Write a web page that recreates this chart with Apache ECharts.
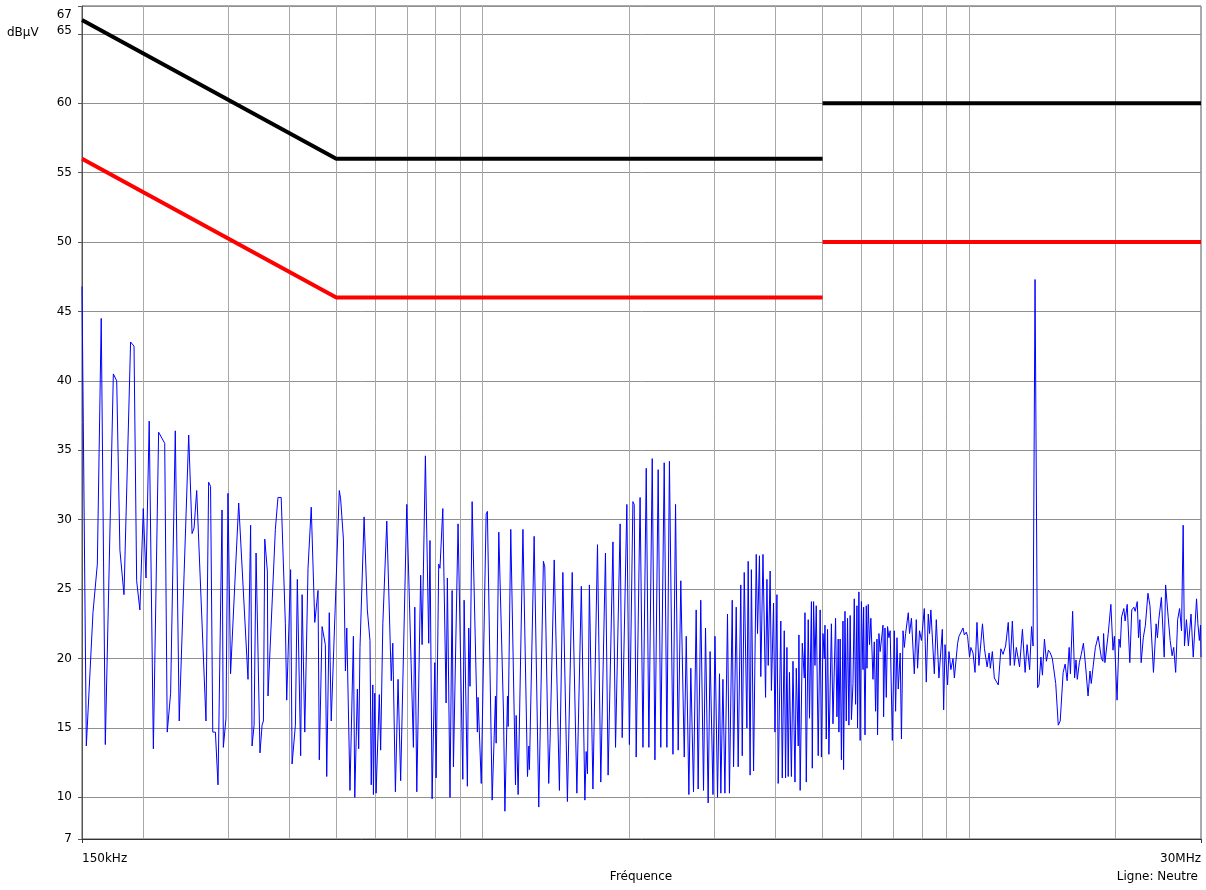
<!DOCTYPE html>
<html>
<head>
<meta charset="utf-8">
<script src="https://cdn.jsdelivr.net/npm/echarts@6/dist/echarts.min.js"></script>
<style>
  html, body { margin: 0; padding: 0; background: #ffffff; }
  #chart { width: 1206px; height: 890px; }
</style>
</head>
<body>
<div id="chart"></div>
<script>
// Conducted emission sweep, neutral line (frequency in MHz, level in dBµV)
const sweepMHz = [
  0.1500, 0.1531, 0.1580, 0.1613, 0.1643, 0.1675, 0.1740, 0.1768, 0.1795, 0.1830,
  0.1888, 0.1919, 0.1943, 0.1973, 0.2005, 0.2031, 0.2062, 0.2103, 0.2156, 0.2219,
  0.2246, 0.2282, 0.2333, 0.2377, 0.2486, 0.2526, 0.2550, 0.2582, 0.2698, 0.2732,
  0.2757, 0.2786, 0.2821, 0.2856, 0.2911, 0.2929, 0.2966, 0.2994, 0.3031, 0.3092,
  0.3150, 0.3292, 0.3333, 0.3356, 0.3388, 0.3420, 0.3484, 0.3519, 0.3541, 0.3564,
  0.3608, 0.3619, 0.3747, 0.3794, 0.3852, 0.3929, 0.3954, 0.4028, 0.4056, 0.4120,
  0.4158, 0.4224, 0.4253, 0.4307, 0.4374, 0.4441, 0.4516, 0.4586, 0.4614, 0.4675,
  0.4748, 0.4779, 0.4837, 0.4882, 0.5072, 0.5104, 0.5172, 0.5221, 0.5255, 0.5335,
  0.5422, 0.5458, 0.5525, 0.5560, 0.5594, 0.5704, 0.5792, 0.5865, 0.5900, 0.5944,
  0.5961, 0.6000, 0.6037, 0.6130, 0.6169, 0.6233, 0.6351, 0.6487, 0.6534, 0.6615,
  0.6699, 0.6782, 0.6981, 0.7024, 0.7204, 0.7252, 0.7320, 0.7456, 0.7507, 0.7625,
  0.7746, 0.7792, 0.7871, 0.7972, 0.8021, 0.8121, 0.8170, 0.8280, 0.8410, 0.8461,
  0.8567, 0.8653, 0.8707, 0.8900, 0.9103, 0.9159, 0.9302, 0.9362, 0.9418, 0.9513,
  0.9753, 0.9784, 0.9933, 1.0165, 1.0226, 1.0460, 1.0624, 1.0659, 1.0793, 1.1038,
  1.1110, 1.1246, 1.1283, 1.1423, 1.1681, 1.1719, 1.1828, 1.2100, 1.2364, 1.2443,
  1.2478, 1.2760, 1.3042, 1.3332, 1.3420, 1.3671, 1.3754, 1.4032, 1.4382, 1.4618,
  1.4937, 1.5280, 1.5375, 1.5621, 1.5955, 1.6225, 1.6324, 1.6424, 1.6576, 1.6855,
  1.7223, 1.7494, 1.7886, 1.8112, 1.8531, 1.8760, 1.9172, 1.9360, 1.9792, 2.0032,
  2.0367, 2.0493, 2.0686, 2.1071, 2.1360, 2.1695, 2.1967, 2.2320, 2.2606, 2.2956,
  2.3242, 2.3622, 2.3922, 2.4212, 2.4621, 2.4925, 2.5239, 2.5553, 2.5974, 2.6219,
  2.6548, 2.6793, 2.7137, 2.7482, 2.7739, 2.8084, 2.8455, 2.8724, 2.9086, 2.9355,
  2.9758, 3.0040, 3.0407, 3.0689, 3.0885, 3.1193, 3.1488, 3.1874, 3.2169, 3.2600,
  3.2802, 3.3219, 3.3529, 3.3946, 3.4180, 3.4505, 3.4942, 3.5154, 3.5479, 3.5691,
  3.6062, 3.6521, 3.6743, 3.7084, 3.7320, 3.7704, 3.8170, 3.8418, 3.8651, 3.9008,
  3.9241, 3.9644, 3.9904, 4.0279, 4.0523, 4.1027, 4.1310, 4.1702, 4.1959, 4.2231,
  4.2487, 4.2743, 4.3136, 4.3463, 4.3874, 4.4143, 4.4555, 4.4698, 4.4966, 4.5420,
  4.5851, 4.6001, 4.6283, 4.6714, 4.6996, 4.7428, 4.7620, 4.7915, 4.8230, 4.8525,
  4.8977, 4.9430, 4.9725, 5.0095, 5.0404, 5.0569, 5.0879, 5.1188, 5.1518, 5.2137,
  5.2523, 5.3172, 5.3517, 5.3842, 5.4015, 5.4339, 5.4664, 5.5071, 5.5230, 5.5593,
  5.5933, 5.6273, 5.6636, 5.6976, 5.7316, 5.7740, 5.8097, 5.8454, 5.8833, 5.9000,
  5.9380, 5.9737, 6.0094, 6.0549, 6.0724, 6.1122, 6.1497, 6.1696, 6.2070, 6.2444,
  6.2842, 6.3479, 6.3871, 6.4263, 6.4681, 6.4864, 6.5282, 6.5674, 6.6559, 6.6751,
  6.7189, 6.7600, 6.8012, 6.8450, 6.8861, 6.9560, 7.0221, 7.0652, 7.1111, 7.1542,
  7.2203, 7.2635, 7.3181, 7.3633, 7.4085, 7.5019, 7.5471, 7.6164, 7.7196, 7.7923,
  7.8397, 7.9123, 7.9850, 8.0942, 8.1703, 8.2465, 8.2962, 8.3491, 8.4869, 8.5667,
  8.6743, 8.8150, 8.8697, 8.9278, 9.0371, 9.0953, 9.1791, 9.2735, 9.3308, 9.4759,
  9.5369, 9.6247, 9.7230, 9.7831, 9.8751, 9.9352, 10.027, 10.091, 10.194, 10.290,
  10.387, 10.483, 10.660, 10.761, 10.827, 10.898, 10.999, 11.065, 11.170, 11.276,
  11.382, 11.488, 11.631, 11.749, 11.894, 12.044, 12.155, 12.280, 12.397, 12.513,
  12.706, 12.880, 13.045, 13.167, 13.327, 13.449, 13.545, 13.673, 13.840, 13.929,
  14.058, 14.160, 14.295, 14.429, 14.564, 14.698, 14.840, 15.080, 15.263, 15.404,
  15.619, 15.767, 15.915, 16.070, 16.167, 16.336, 16.491, 16.599, 16.700, 16.863,
  17.018, 17.191, 17.355, 17.459, 17.574, 17.736, 17.842, 18.025, 18.196, 18.435,
  18.606, 18.724, 18.855, 18.917, 19.034, 19.337, 19.579, 19.777, 19.907, 20.160,
  20.347, 20.469, 20.601, 20.818, 20.945, 21.152, 21.416, 21.613, 21.834, 21.968,
  22.185, 22.320, 22.463, 22.597, 22.828, 23.055, 23.335, 23.562, 23.953, 24.259,
  24.407, 24.565, 24.870, 25.205, 25.370, 25.680, 25.927, 26.165, 26.362, 26.611,
  26.860, 27.109, 27.358, 27.571, 27.741, 28.002, 28.263, 28.615, 28.919, 29.372,
  29.562, 29.769, 29.940, 30.000
];
const sweepDbuV = [
  46.8, 13.7, 23.3, 26.8, 44.5, 13.8, 40.5, 40.0, 27.8, 24.6,
  42.8, 42.5, 25.6, 23.5, 30.8, 25.8, 37.1, 13.5, 36.3, 35.5,
  14.7, 17.5, 36.4, 15.5, 36.1, 29.0, 29.4, 32.1, 15.5, 32.7,
  32.4, 14.7, 14.7, 10.9, 30.7, 13.6, 15.7, 31.9, 18.9, 25.3,
  31.2, 18.5, 29.6, 13.7, 15.2, 27.6, 13.2, 15.2, 15.5, 28.6,
  26.3, 17.3, 29.3, 31.6, 31.6, 22.5, 17.0, 26.4, 12.4, 15.2,
  25.7, 13.0, 24.6, 14.7, 26.5, 30.9, 22.6, 24.9, 12.7, 22.3,
  21.0, 11.5, 23.3, 15.5, 32.1, 31.5, 28.6, 19.1, 22.2, 10.5,
  21.6, 10.0, 17.8, 13.5, 20.8, 30.2, 23.5, 21.3, 10.9, 18.1,
  10.2, 17.5, 10.3, 17.4, 13.4, 22.5, 29.9, 18.4, 21.1, 10.4,
  18.5, 11.2, 31.1, 31.2, 13.6, 23.7, 10.4, 26.0, 21.0, 34.6,
  21.1, 28.5, 9.9, 19.7, 11.4, 26.8, 26.5, 30.8, 16.8, 25.8,
  10.0, 24.9, 12.2, 29.7, 11.3, 24.2, 10.8, 22.2, 18.0, 31.3,
  14.7, 17.2, 11.0, 30.4, 30.6, 9.8, 17.3, 13.9, 29.1, 16.0,
  9.0, 17.3, 15.1, 29.3, 10.9, 15.9, 10.2, 29.3, 11.5, 13.7,
  12.0, 28.8, 9.3, 27.0, 26.6, 11.0, 13.9, 27.1, 10.5, 26.2,
  9.7, 26.2, 26.2, 10.3, 25.2, 9.8, 13.3, 11.7, 25.3, 10.6,
  28.2, 11.1, 27.6, 11.6, 28.4, 13.6, 29.7, 14.3, 31.1, 13.8,
  31.3, 31.1, 12.9, 31.6, 13.6, 33.7, 13.6, 34.4, 12.7, 33.6,
  13.6, 34.1, 13.6, 34.2, 13.1, 31.1, 13.4, 25.6, 12.9, 21.6,
  10.2, 19.3, 10.4, 23.5, 10.6, 24.2, 10.5, 22.2, 9.6, 20.5,
  10.2, 21.6, 10.0, 18.9, 10.3, 18.5, 10.3, 23.2, 10.3, 24.2,
  12.2, 23.7, 12.2, 25.3, 13.0, 26.2, 15.0, 27.0, 11.6, 26.4,
  11.9, 27.5, 21.8, 27.4, 18.7, 27.5, 17.2, 25.7, 19.5, 26.3,
  17.7, 24.0, 14.7, 24.6, 11.0, 22.7, 11.4, 22.0, 11.4, 20.8,
  11.5, 19.0, 11.5, 19.8, 11.1, 19.3, 13.7, 21.7, 10.5, 21.1,
  18.6, 23.3, 11.1, 22.8, 15.7, 24.1, 12.1, 24.1, 19.5, 23.8,
  13.0, 23.5, 12.9, 21.8, 20.0, 22.4, 14.2, 22.1, 13.1, 22.5,
  15.3, 22.9, 15.8, 21.4, 14.7, 21.4, 12.7, 22.7, 12.0, 23.4,
  15.5, 22.9, 15.2, 23.1, 15.6, 18.2, 24.3, 16.7, 23.8, 15.0,
  24.8, 14.1, 24.1, 19.2, 23.7, 14.5, 23.8, 19.3, 23.9, 21.0,
  22.9, 18.5, 21.2, 16.2, 21.4, 14.5, 21.8, 20.5, 22.4, 15.8,
  22.2, 17.2, 22.3, 21.5, 22.0, 14.1, 22.0, 16.2, 21.5, 17.8,
  20.4, 14.2, 22.0, 20.8, 21.8, 23.3, 21.8, 22.9, 18.9, 22.8,
  19.3, 22.0, 21.3, 23.6, 18.3, 23.2, 21.8, 23.5, 18.9, 22.8,
  18.6, 22.1, 16.3, 21.0, 18.1, 20.5, 19.2, 20.0, 18.6, 21.1,
  21.6, 21.7, 22.2, 21.7, 21.9, 21.6, 20.1, 20.8, 20.4, 19.0,
  22.6, 19.5, 22.5, 20.7, 20.8, 19.4, 20.4, 19.3, 20.5, 18.6,
  18.6, 18.1, 20.7, 20.3, 20.9, 22.6, 19.5, 22.7, 19.5, 20.8,
  19.4, 22.1, 19.0, 21.0, 19.2, 22.3, 20.9, 47.3, 17.9, 18.1,
  20.1, 18.8, 21.4, 19.8, 20.6, 20.4, 20.0, 18.2, 15.2, 15.5,
  19.0, 19.6, 18.4, 20.8, 18.9, 23.4, 18.6, 19.9, 18.5, 19.7,
  20.3, 21.1, 19.6, 19.5, 17.3, 19.1, 18.2, 19.6, 20.8, 21.6,
  21.6, 20.0, 19.8, 21.8, 19.7, 21.8, 23.9, 20.6, 21.6, 17.0,
  21.4, 20.8, 23.0, 23.6, 22.7, 23.9, 19.7, 23.5, 23.7, 23.4,
  24.1, 21.5, 22.8, 19.7, 21.5, 22.4, 24.7, 23.8, 19.0, 22.5,
  21.5, 22.8, 24.4, 20.1, 25.3, 23.0, 21.3, 20.2, 20.8, 19.0,
  22.8, 23.6, 22.0, 29.6, 20.9, 22.8, 20.9, 23.2, 20.1, 24.3,
  22.5, 21.3, 22.4, 20.1
];

// Limit lines (EN 55022 class B, quasi-peak and average); the step at 5 MHz is not joined
const limitFreqMHz   = [0.15, 0.5, 5, 5, 30];
const quasiPeakLimit = [66, 56, 56, 60, 60];
const averageLimit   = [56, 46, 46, 50, 50];

// Grid and tick values
const gridFreqMHz = [0.2, 0.3, 0.4, 0.5, 0.6, 0.7, 0.8, 0.9, 1,
                     2, 3, 4, 5, 6, 7, 8, 9, 10, 20];
const edgeFreqMHz = [0.15, 30];
const edgeLabels  = ['150kHz', '30MHz'];
const levelTicks  = [7, 10, 15, 20, 25, 30, 35, 40, 45, 50, 55, 60, 65, 67];

const lg = Math.log10;
const xMin = lg(edgeFreqMHz[0]);
const xMax = lg(edgeFreqMHz[1]);
const FONT = 'DejaVu Sans';

const sweepData = sweepMHz.map((f, i) => [lg(f), sweepDbuV[i]]);

function limitData(levels) {
  const out = [];
  limitFreqMHz.forEach((f, i) => {
    if (i > 0 && limitFreqMHz[i - 1] === f) out.push([lg(f), '-']);
    out.push([lg(f), levels[i]]);
  });
  return out;
}

const chart = echarts.init(document.getElementById('chart'), null, { renderer: 'canvas' });

chart.setOption({
  animation: false,
  backgroundColor: '#ffffff',
  grid: {
    left: 82, right: 5, top: 6, bottom: 51,
    containLabel: false,
    outerBoundsMode: 'none',
    show: true,
    borderColor: '#555555',
    borderWidth: 1
  },
  xAxis: [
    {
      type: 'value',
      min: xMin,
      max: xMax,
      axisLine: { show: true, onZero: false, lineStyle: { color: '#333333', width: 1 } },
      axisTick: { show: false, customValues: gridFreqMHz.map(lg) },
      splitLine: { show: true, lineStyle: { color: '#a8a8a8', width: 1 } },
      axisLabel: {
        customValues: edgeFreqMHz.map(lg),
        formatter: v => (Math.abs(v - xMin) < 1e-9 ? edgeLabels[0] : edgeLabels[1]),
        alignMinLabel: 'left',
        alignMaxLabel: 'right',
        margin: 14,
        fontFamily: FONT,
        fontSize: 12,
        color: '#000000'
      }
    },
    {
      type: 'value',
      position: 'bottom',
      min: xMin,
      max: xMax,
      axisLine: { show: false, onZero: false },
      axisTick: { show: true, length: 4, customValues: edgeFreqMHz.map(lg),
                  lineStyle: { color: '#333333' } },
      axisLabel: { show: false },
      splitLine: { show: false }
    }
  ],
  yAxis: {
    type: 'value',
    min: 7,
    max: 67,
    axisLine: { show: true, onZero: false, lineStyle: { color: '#555555', width: 1 } },
    axisTick: { show: true, length: 4, customValues: levelTicks,
                lineStyle: { color: '#555555' } },
    splitLine: { show: true, lineStyle: { color: '#909090', width: 1 } },
    axisLabel: {
      customValues: levelTicks,
      margin: 10,
      fontFamily: FONT,
      fontSize: 12,
      color: '#000000',
      formatter: v => (v === 67 ? '{top|67}' : v === 65 ? '{up|65}' : String(v)),
      rich: {
        top: { padding: [18, 0, 0, 0] },
        up: { padding: [0, 0, 6, 0] }
      }
    }
  },
  series: [
    {
      name: 'Mesure',
      type: 'line',
      data: sweepData,
      showSymbol: false,
      symbol: 'none',
      lineStyle: { color: '#0000ff', width: 1 },
      z: 2
    },
    {
      name: 'Limite QP',
      type: 'line',
      data: limitData(quasiPeakLimit),
      showSymbol: false,
      symbol: 'none',
      connectNulls: false,
      lineStyle: { color: '#000000', width: 4 },
      z: 3
    },
    {
      name: 'Limite AV',
      type: 'line',
      data: limitData(averageLimit),
      showSymbol: false,
      symbol: 'none',
      connectNulls: false,
      lineStyle: { color: '#ff0000', width: 4 },
      z: 3
    }
  ],
  graphic: [
    {
      type: 'text', x: 7, y: 33,
      style: { text: 'dBµV', font: '12px "DejaVu Sans"', fill: '#000000',
               align: 'left', verticalAlign: 'middle',
               textAlign: 'left', textVerticalAlign: 'middle' }
    },
    {
      type: 'text', x: 641, y: 877,
      style: { text: 'Fréquence', font: '12px "DejaVu Sans"', fill: '#000000',
               align: 'center', verticalAlign: 'middle',
               textAlign: 'center', textVerticalAlign: 'middle' }
    },
    {
      type: 'text', x: 1198, y: 877,
      style: { text: 'Ligne: Neutre', font: '12px "DejaVu Sans"', fill: '#000000',
               align: 'right', verticalAlign: 'middle',
               textAlign: 'right', textVerticalAlign: 'middle' }
    }
  ]
});
</script>
</body>
</html>
